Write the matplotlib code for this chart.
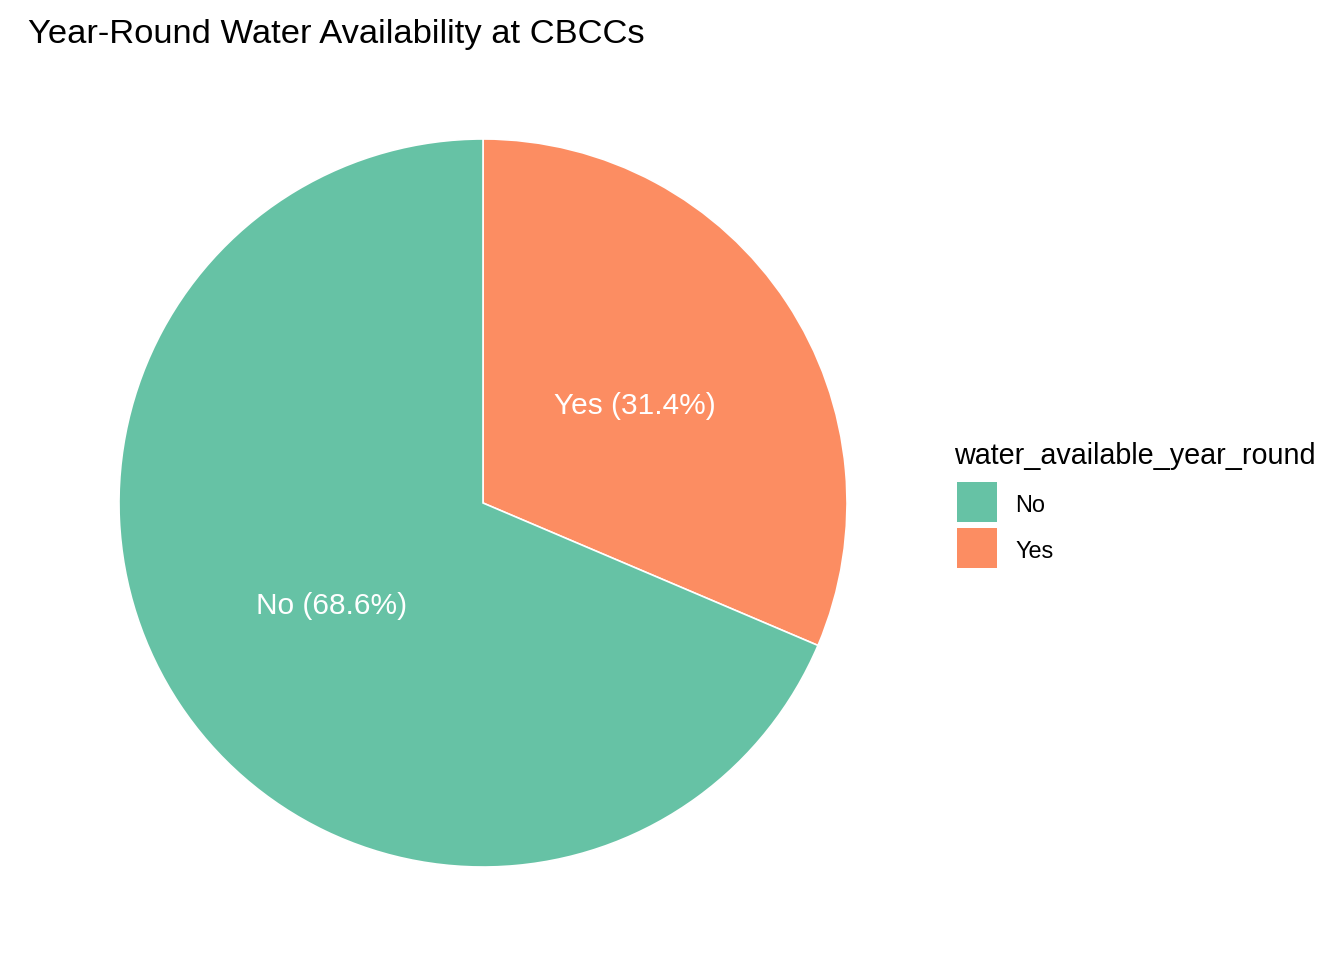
import matplotlib
matplotlib.use("Agg")
import matplotlib.pyplot as plt
from matplotlib.patches import Rectangle

plt.rcParams['font.family'] = ['Liberation Sans', 'DejaVu Sans']

categories = ["Yes", "No"]
percentages = [31.4, 68.6]
colors = {"No": "#66C2A5", "Yes": "#FC8D62"}
legend_order = ["No", "Yes"]
legend_title = "water_available_year_round"
title = "Year-Round Water Availability at CBCCs"

W, H = 1344, 960
fig = plt.figure(figsize=(W / 100, H / 100), dpi=100)

cx, cy, r = 483, 503, 364
ax = fig.add_axes([(cx - r) / W, (H - cy - r) / H, 2 * r / W, 2 * r / H])
ax.set_xlim(-1, 1)
ax.set_ylim(-1, 1)
ax.set_aspect('equal')
ax.axis('off')

wedges, texts = ax.pie(
    percentages,
    colors=[colors[c] for c in categories],
    startangle=90,
    counterclock=False,
    radius=1,
    labels=[f"{c} ({p}%)" for c, p in zip(categories, percentages)],
    labeldistance=0.5,
    wedgeprops=dict(edgecolor='white', linewidth=1.2),
    textprops=dict(color='white', fontsize=21.5, ha='center', va='center_baseline'),
)
ax.set_xlim(-1, 1)
ax.set_ylim(-1, 1)

fig.text(28 / W, 1 - 31 / H, title, fontsize=24.8, ha='left', va='center_baseline', color='black')

# legend
fig.text(954 / W, 1 - 453 / H, legend_title, fontsize=20.7, ha='left', va='center_baseline')
for i, c in enumerate(legend_order):
    y0 = 482 + i * 46
    fig.add_artist(Rectangle((957 / W, 1 - (y0 + 40) / H), 40 / W, 40 / H,
                             facecolor=colors[c], edgecolor='none',
                             transform=fig.transFigure))
    fig.text(1015 / W, 1 - (y0 + 21) / H, c, fontsize=16.9, ha='left', va='center_baseline')

fig.savefig("out.png", dpi=100, facecolor='white')
